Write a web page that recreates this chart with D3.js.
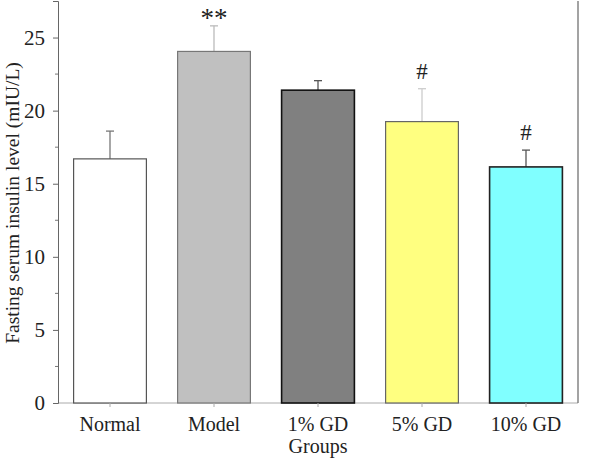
<!DOCTYPE html>
<html><head><meta charset="utf-8">
<script src="https://cdn.jsdelivr.net/npm/d3@7"></script>
<style>body{margin:0;background:#fff}svg{display:block}text{font-family:"Liberation Serif","Times New Roman",serif;fill:#222}</style>
</head><body><svg id="c" width="596" height="464"></svg>
<script>
const categories = ["Normal","Model","1% GD","5% GD","10% GD"];
const means = [16.7, 24.05, 21.4, 19.25, 16.15];
const errors = [1.9, 1.75, 0.65, 2.25, 1.15];
const marks = ["", "**", "", "#", "#"];
const fills = ["#ffffff","#c0c0c0","#808080","#ffff80","#80ffff"];
const strokes = ["#555","#777","#111","#666","#222"];
const errColors = ["#777","#bbb","#555","#ccc","#555"];
const yTicks = [0,5,10,15,20,25];

const svg = d3.select("#c");
const L = 58, R = 578, T = 1, B = 403;
const x = d3.scaleBand().domain(categories).range([L, R]).paddingInner(0.3).paddingOuter(0.15);
const y = d3.scaleLinear().domain([0, 27.5]).range([B, T]);

svg.append("line").attr("x1",L).attr("x2",R).attr("y1",B).attr("y2",B).attr("stroke","#aaa").attr("stroke-width",1);
svg.append("line").attr("x1",R).attr("x2",R).attr("y1",T).attr("y2",B).attr("stroke","#666").attr("stroke-width",1.2);

const yAxis = d3.axisLeft(y).tickValues(yTicks).tickSize(5).tickPadding(8);
const gy = svg.append("g").attr("transform",`translate(${L},0)`).call(yAxis);
gy.select(".domain").attr("stroke","#666");
gy.selectAll(".tick line").attr("stroke","#666");
gy.selectAll("text").style("font-size","21px").style("font-family","Liberation Serif").attr("fill","#222");
const minor = d3.range(2.5, 27.5, 5);
gy.selectAll(".minor").data(minor).enter().append("line").attr("class","minor")
  .attr("x1",-3).attr("x2",0).attr("y1",d=>y(d)).attr("y2",d=>y(d)).attr("stroke","#777");

const g = svg.append("g");
categories.forEach((c,i)=>{
  const x0 = x(c), w = x.bandwidth(), cx = x0 + w/2;
  g.append("line").attr("x1",cx).attr("x2",cx).attr("y1",y(means[i])).attr("y2",y(means[i]+errors[i]))
    .attr("stroke",errColors[i]).attr("stroke-width",1.3);
  g.append("line").attr("x1",cx-4).attr("x2",cx+4).attr("y1",y(means[i]+errors[i])).attr("y2",y(means[i]+errors[i]))
    .attr("stroke",errColors[i]).attr("stroke-width",1.3);
  g.append("rect").attr("x",x0).attr("y",y(means[i])).attr("width",w).attr("height",B-y(means[i]))
    .attr("fill",fills[i]).attr("stroke",strokes[i]).attr("stroke-width",i===2||i===4?1.6:1.2);
  if(marks[i]) g.append("text").attr("x",cx).attr("y",y(means[i]+errors[i]) - (marks[i]==="**"?-1:10))
    .attr("text-anchor","middle").style("font-size",marks[i]==="**"?"27px":"23px").text(marks[i]);
  g.append("line").attr("x1",cx).attr("x2",cx).attr("y1",B).attr("y2",B+4).attr("stroke","#aaa");
  g.append("text").attr("x",cx).attr("y",431).attr("text-anchor","middle").style("font-size","20px").text(c);
});

svg.append("text").attr("x",x("1% GD")+x.bandwidth()/2).attr("y",453).attr("text-anchor","middle").style("font-size","20px").text("Groups");
svg.append("text").attr("transform","translate(19,203) rotate(-90)").attr("text-anchor","middle").style("font-size","19.5px")
  .text("Fasting serum insulin  level (mIU/L)");
</script></body></html>
